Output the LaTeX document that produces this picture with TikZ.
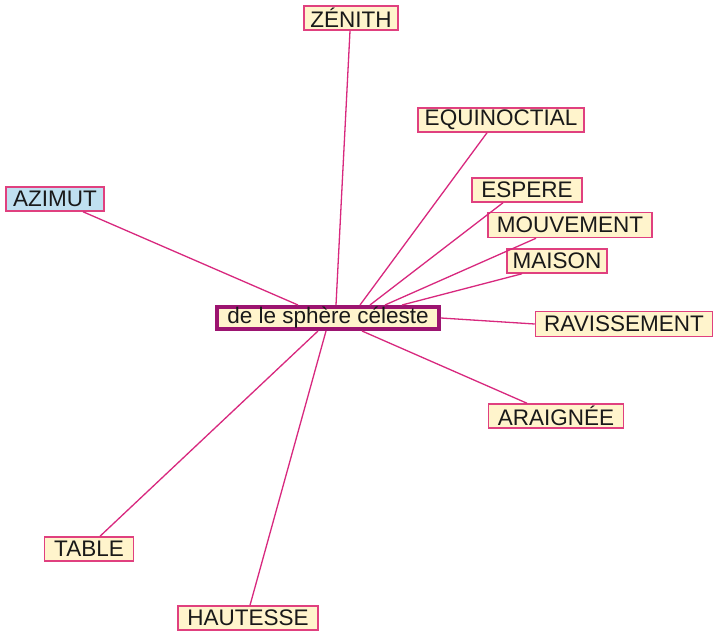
\documentclass[tikz,border=0pt]{standalone}
\usepackage{fontspec}
\setmainfont{Liberation Sans}
\definecolor{linkc}{HTML}{D8287E}
\definecolor{boxb}{HTML}{E0407F}
\definecolor{boxf}{HTML}{FFF4CC}
\definecolor{azf}{HTML}{BFE0F0}
\definecolor{cenb}{HTML}{9C1470}
\begin{document}
\begin{tikzpicture}[x=1pt,y=-1pt,
  term/.style={draw=boxb,fill=boxf,line width=1.5pt,inner sep=0pt,font=\fontsize{22.5}{22.5}\selectfont,text=black!90},
  link/.style={draw=linkc,line width=1.3pt}]
\useasboundingbox (0,0) rectangle (714,634);
\fill[white] (0,0) rectangle (714,634);
\node[term,minimum width=94pt,minimum height=24pt] (zen) at (351,18) {ZÉNITH};
\node[term,minimum width=166pt,minimum height=24pt] (equ) at (501,120) {EQUINOCTIAL};
\node[term,fill=azf,minimum width=98pt,minimum height=24pt] (azi) at (55,199) {AZIMUT};
\node[term,minimum width=110pt,minimum height=24pt] (esp) at (527,190) {ESPERE};
\node[term,minimum width=164pt,minimum height=25pt] (mou) at (570,225) {MOUVEMENT};
\node[term,minimum width=100pt,minimum height=24pt] (mai) at (557,261) {MAISON};
\node[term,minimum width=177pt,minimum height=25pt] (rav) at (624,324) {RAVISSEMENT};
\node[term,minimum width=135pt,minimum height=24pt] (ara) at (556,416) {ARAIGNÉE};
\node[term,minimum width=89pt,minimum height=24pt] (tab) at (89,549) {TABLE};
\node[term,minimum width=140pt,minimum height=24pt] (hau) at (248,618) {HAUTESSE};
\node[term,draw=cenb,line width=4pt,minimum width=222pt,minimum height=22pt] (cen) at (328,318) {de le sphère céleste};
\draw[link] (cen.north -| 336,0) -- (zen.south -| 350,0);
\draw[link] (cen.north -| 360,0) -- (equ.south -| 487,0);
\draw[link] (cen.north -| 298,0) -- (azi.south -| 83,0);
\draw[link] (cen.north -| 370,0) -- (esp.south -| 503,0);
\draw[link] (cen.north -| 385,0) -- (mou.south -| 536,0);
\draw[link] (cen.north -| 402,0) -- (mai.south -| 522,0);
\draw[link] (cen.east) -- (rav.west);
\draw[link] (cen.south -| 362,0) -- (ara.north -| 527,0);
\draw[link] (cen.south -| 318,0) -- (tab.north -| 100,0);
\draw[link] (cen.south -| 326,0) -- (hau.north -| 250,0);
\end{tikzpicture}
\end{document}
